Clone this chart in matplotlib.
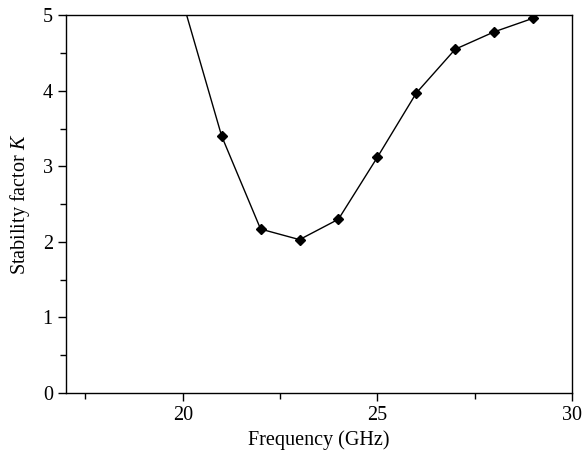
import matplotlib
matplotlib.use("Agg")
import matplotlib.pyplot as plt
from matplotlib.ticker import MultipleLocator

plt.rcParams["font.family"] = ["Liberation Serif", "DejaVu Serif"]
plt.rcParams["mathtext.fontset"] = "custom"
plt.rcParams["mathtext.it"] = "Liberation Serif:italic"
plt.rcParams["mathtext.rm"] = "Liberation Serif"

# 数据：频率 (GHz) 与稳定因子 K
freq = [20, 21, 22, 23, 24, 25, 26, 27, 28, 29]
k_factor = [5.18, 3.40, 2.17, 2.03, 2.30, 3.12, 3.97, 4.55, 4.78, 4.96]

fig = plt.figure(figsize=(5.87, 4.59), dpi=100)
ax = fig.add_axes([0.1124, 0.1438, 0.862, 0.823])

ax.plot(freq, k_factor, color="black", linewidth=1.0,
        marker="D", markersize=5, markerfacecolor="black")

ax.set_xlim(17, 30)
ax.set_ylim(0, 5)
ax.xaxis.set_major_locator(MultipleLocator(5))
ax.xaxis.set_minor_locator(MultipleLocator(2.5))
ax.yaxis.set_major_locator(MultipleLocator(1))
ax.yaxis.set_minor_locator(MultipleLocator(0.5))
ax.tick_params(which="both", direction="out", top=False, right=False,
               labelsize=14.5, width=1.0)
ax.tick_params(which="major", length=6)
ax.tick_params(which="minor", length=4)
for s in ax.spines.values():
    s.set_linewidth(1.0)

ax.set_xlabel("Frequency (GHz)", fontsize=14.5, labelpad=4)
ax.set_ylabel("Stability factor $K$", fontsize=14.5, labelpad=8)

fig.savefig("out.png", dpi=100)
